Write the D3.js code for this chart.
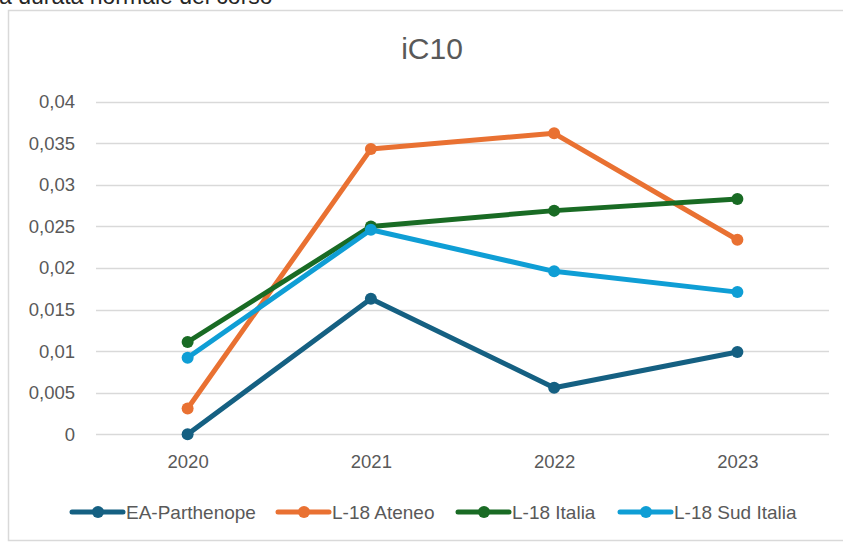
<!DOCTYPE html>
<html>
<head>
<meta charset="utf-8">
<script src="https://cdn.jsdelivr.net/npm/d3@7"></script>
<style>
  body { margin: 0; background: #fff; }
  svg { display: block; font-family: "Liberation Sans", Arial, sans-serif; }
</style>
</head>
<body>
<div class="chartdiv"></div>
<script>
//chart data
var years = ["2020", "2021", "2022", "2023"];
var seriesNames = ["EA-Parthenope", "L-18 Ateneo", "L-18 Italia", "L-18 Sud Italia"];
var parthenope = [0, 0.0163, 0.0056, 0.0099];
var ateneo = [0.0031, 0.0343, 0.0362, 0.0234];
var italia = [0.0111, 0.0250, 0.0269, 0.0283];
var sudItalia = [0.0092, 0.0246, 0.0196, 0.0171];
var yTicks = [0, 0.005, 0.01, 0.015, 0.02, 0.025, 0.03, 0.035, 0.04];
var colors = ["#156082", "#E97132", "#196B24", "#0F9ED5"];

var width = 843, height = 542;
var allSeries = [parthenope, ateneo, italia, sudItalia];

var svg = d3.select("div.chartdiv")
    .append("svg")
    .attr("width", width)
    .attr("height", height);

//heading above the chart, cut by the top edge as in the source
svg.append("text")
    .attr("x", -1)
    .attr("y", 4)
    .attr("fill", "#262626")
    .style("font-size", "23px")
    .text("a durata normale del corso");

//chart frame
svg.append("rect")
    .attr("x", 8.5)
    .attr("y", 10.5)
    .attr("width", 850)
    .attr("height", 530)
    .attr("fill", "#fff")
    .attr("stroke", "#d9d9d9")
    .attr("stroke-width", 1.5);

//scales
var x = d3.scalePoint()
    .domain(years)
    .range([96, 829])
    .padding(0.5);

var y = d3.scaleLinear()
    .domain([0, 0.04])
    .range([434.3, 101.7]);

var fmt = function(d) { return String(d).replace(".", ","); };

//gridlines
svg.append("g")
    .selectAll("line")
    .data(yTicks)
    .enter()
    .append("line")
    .attr("x1", 96)
    .attr("x2", 829)
    .attr("y1", function(d) { return Math.round(y(d)) + 0.5; })
    .attr("y2", function(d) { return Math.round(y(d)) + 0.5; })
    .attr("stroke", "#d9d9d9")
    .attr("stroke-width", 1.3);

//y axis labels
var yAxis = svg.append("g")
    .attr("transform", "translate(85,0)")
    .call(d3.axisLeft(y).tickValues(yTicks).tickFormat(fmt).tickSize(0).tickPadding(10));
yAxis.select(".domain").remove();
yAxis.selectAll("text")
    .attr("fill", "#595959")
    .style("font-size", "18.5px")
    .style("font-family", "Liberation Sans, Arial, sans-serif");

//x axis labels
var xAxis = svg.append("g")
    .attr("transform", "translate(0,451)")
    .call(d3.axisBottom(x).tickSize(0).tickPadding(4));
xAxis.select(".domain").remove();
xAxis.selectAll("text")
    .attr("fill", "#595959")
    .style("font-size", "18.5px")
    .style("font-family", "Liberation Sans, Arial, sans-serif");

//title
svg.append("text")
    .attr("x", 432)
    .attr("y", 59)
    .attr("text-anchor", "middle")
    .attr("fill", "#595959")
    .style("font-size", "30px")
    .text("iC10");

//lines and markers
var line = d3.line()
    .x(function(d, i) { return x(years[i]); })
    .y(function(d) { return y(d); });

allSeries.forEach(function(values, s) {
    var g = svg.append("g").attr("class", "series");
    g.append("path")
        .datum(values)
        .attr("d", line)
        .attr("fill", "none")
        .attr("stroke", colors[s])
        .attr("stroke-width", 5)
        .attr("stroke-linejoin", "round");
    g.selectAll("circle")
        .data(values)
        .enter()
        .append("circle")
        .attr("cx", function(d, i) { return x(years[i]); })
        .attr("cy", function(d) { return y(d); })
        .attr("r", 6)
        .attr("fill", colors[s]);
});

//legend
var legendX = [72, 278, 458, 620];
var legend = svg.append("g")
    .selectAll("g")
    .data(seriesNames)
    .enter()
    .append("g")
    .attr("transform", function(d, i) { return "translate(" + legendX[i] + ",512)"; });

legend.append("line")
    .attr("x1", 0)
    .attr("x2", 51)
    .attr("stroke", function(d, i) { return colors[i]; })
    .attr("stroke-width", 5)
    .attr("stroke-linecap", "round");

legend.append("circle")
    .attr("cx", 26)
    .attr("r", 6)
    .attr("fill", function(d, i) { return colors[i]; });

legend.append("text")
    .attr("x", 54)
    .attr("y", 7)
    .attr("fill", "#595959")
    .style("font-size", "19px")
    .text(function(d) { return d; });
</script>
</body>
</html>
